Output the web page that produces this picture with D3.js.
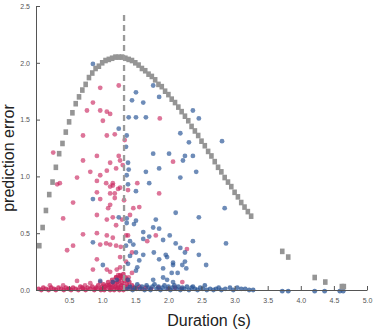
<!DOCTYPE html>
<html><head><meta charset="utf-8">
<script src="https://cdn.jsdelivr.net/npm/d3@7"></script>
<style>
html,body{margin:0;padding:0;background:#fff;}
svg{display:block;font-family:"Liberation Sans",Arial,sans-serif;}
</style></head>
<body><svg id="chart" width="376" height="332"></svg>
<script>
// ---- data (duration s, prediction error) ----
const xTicks = [0.5,1.0,1.5,2.0,2.5,3.0,3.5,4.0,4.5,5.0];
const yTicks = [0,0.5,1,1.5,2,2.5];
const boundaryX = 1.33;

// model curve (gray squares)
const curveX = [0.05,0.10,0.15,0.20,0.25,0.30,0.35,0.40,0.45,0.50,0.55,0.60,0.65,0.70,0.75,0.80,0.85,0.90,0.95,1.00,
  1.05,1.10,1.15,1.20,1.25,1.30,1.35,1.40,1.45,1.50,1.55,1.60,1.65,1.70,1.75,1.80,1.85,1.90,1.95,2.00,
  2.05,2.10,2.15,2.20,2.25,2.30,2.35,2.40,2.45,2.50,2.55,2.60,2.65,2.70,2.75,2.80,2.85,2.90,2.95,3.00,
  3.05,3.10,3.15,3.20,3.25,3.72,3.81,4.21,4.37,4.62,4.65];
const curveY = [0.39,0.55,0.70,0.84,0.95,1.08,1.20,1.29,1.39,1.48,1.56,1.64,1.70,1.76,1.81,1.87,1.91,1.95,1.97,2.00,
  2.02,2.03,2.04,2.05,2.05,2.05,2.04,2.03,2.02,2.00,1.98,1.95,1.93,1.90,1.88,1.85,1.81,1.79,1.75,1.72,
  1.68,1.65,1.61,1.57,1.53,1.49,1.44,1.40,1.36,1.31,1.27,1.22,1.18,1.13,1.08,1.04,0.99,0.95,0.91,0.86,
  0.82,0.77,0.73,0.69,0.65,0.34,0.29,0.11,0.07,0.03,0.03];

// short-duration trials (pink)
const pinkPts = [
 [0.97,1.78],[1.25,1.80],[0.86,1.65],[0.77,1.58],[0.97,1.58],[1.07,1.57],[1.12,1.55],[1.01,1.49],[0.71,1.36],[1.07,1.36],
 [1.19,1.37],[0.26,1.21],[0.71,1.14],[0.92,1.18],[1.12,1.12],[1.27,1.14],[0.82,1.04],[1.07,1.05],[1.21,1.07],[0.97,1.01],
 [0.62,0.99],[0.36,0.94],[0.32,0.93],[0.92,0.96],[1.06,0.94],[1.16,0.94],[1.12,0.91],[1.24,0.89],[0.92,0.86],[1.12,0.85],
 [1.19,0.85],[0.56,0.77],[1.19,0.81],[0.97,0.80],[1.12,0.75],[1.09,0.72],[1.16,0.92],[1.27,0.90],[0.92,0.66],[0.41,0.63],
 [1.07,0.62],[1.21,0.57],[1.30,0.62],[1.16,0.64],[0.71,0.49],[0.92,0.50],[1.07,0.48],[1.16,0.46],[0.47,0.35],[0.56,0.39],
 [1.06,0.41],[1.21,0.39],[1.27,0.29],[0.92,0.27],[0.86,0.18],[1.12,0.16],[1.22,0.18],[1.24,0.13],[0.21,0.04],[0.41,0.04],
 [0.62,0.08],[0.74,0.04],[0.82,0.06],[0.97,0.07],[1.07,0.18],[1.28,0.38],[1.39,0.48],[1.45,0.33],[1.45,0.15],[1.86,0.85],
 [1.56,0.73],[1.47,0.72],[1.53,0.94],[2.07,1.13],[1.81,0.48],[1.68,0.43],[2.28,0.36],[2.21,0.07],[1.36,0.48],[1.87,1.51],
 [1.12,0.40],[0.97,0.40],[1.21,0.11],[1.27,0.20],[1.34,1.32],[1.31,1.10],[1.39,0.88],[1.33,0.79],[1.42,0.66],[1.36,0.25],
 [1.40,0.11],[1.25,1.18]
];
const pinkBand = [
 [0.04,0.01],[0.08,0.00],[0.11,0.02],[0.15,0.01],[0.19,0.00],[0.23,0.02],[0.27,0.01],[0.30,0.00],[0.34,0.02],[0.38,0.01],
 [0.42,0.00],[0.45,0.02],[0.49,0.01],[0.53,0.00],[0.56,0.02],[0.60,0.01],[0.64,0.00],[0.67,0.03],[0.71,0.01],[0.75,0.00],
 [0.78,0.02],[0.82,0.01],[0.85,0.03],[0.88,0.00],[0.91,0.02],[0.94,0.04],[0.97,0.01],[1.00,0.03],[1.02,0.05],[1.05,0.01],
 [1.07,0.04],[1.09,0.07],[1.11,0.02],[1.13,0.05],[1.15,0.09],[1.17,0.03],[1.19,0.06],[1.21,0.11],[1.22,0.01],[1.24,0.04],
 [1.25,0.08],[1.27,0.13],[1.28,0.02],[1.30,0.06],[1.31,0.10],[1.33,0.03],[1.34,0.08],[1.36,0.01],[1.37,0.05],[1.39,0.03],
 [1.41,0.07],[1.43,0.01],[1.45,0.04],[1.48,0.02],[1.52,0.01],[1.56,0.03],[1.60,0.01],[1.66,0.02],[1.74,0.01],[1.85,0.02],
 [2.00,0.01],[2.10,0.02],[2.20,0.01],[1.18,0.00],[1.26,0.00],[1.32,0.00],[1.12,0.00],[0.98,0.00],[1.03,0.00],[1.20,0.03],
 [1.29,0.04],[1.23,0.07],[1.35,0.11],[1.26,0.10],[1.16,0.07],[1.10,0.04],[1.14,0.02],[1.28,0.12],[1.32,0.14],[1.04,0.03],
 [0.90,0.01],[0.70,0.02],[0.50,0.01],[1.38,0.09],[1.24,0.02]
];

// long-duration trials (blue)
const bluePts = [
 [0.86,1.99],[1.51,1.74],[1.45,1.67],[1.62,1.65],[1.77,1.80],[1.86,1.70],[2.37,1.58],[2.46,1.51],[1.40,1.52],[1.51,1.52],
 [1.66,1.52],[2.18,1.38],[2.31,1.30],[2.81,1.31],[2.25,1.18],[2.37,1.18],[2.22,1.14],[2.42,1.04],[2.18,0.99],[2.85,0.72],
 [2.46,0.64],[1.25,1.42],[1.37,1.36],[1.36,1.26],[1.39,1.12],[1.37,1.01],[1.39,0.93],[0.86,0.80],[1.37,0.63],[1.25,0.64],
 [0.86,0.42],[1.01,0.22],[0.97,0.08],[1.16,0.07],[1.37,0.59],[1.48,0.58],[1.62,0.51],[1.71,0.47],[1.77,0.55],[1.86,0.54],
 [1.92,0.44],[2.02,0.48],[2.18,0.37],[2.25,0.33],[1.36,0.39],[1.47,0.40],[1.51,0.33],[1.56,0.26],[1.53,0.20],[1.39,0.23],
 [1.22,0.09],[1.62,0.31],[1.78,0.33],[1.86,0.27],[1.98,0.29],[2.07,0.24],[2.21,0.22],[1.92,0.19],[2.05,0.15],[2.14,0.15],
 [1.98,0.09],[1.39,0.09],[1.77,0.09],[1.77,1.20],[2.01,1.20],[1.66,1.04],[1.86,1.07],[1.71,0.94],[1.51,0.87],[1.40,1.06],
 [2.11,0.68],[1.51,0.61],[1.81,0.62],[2.11,0.41],[2.37,0.43],[2.46,0.31],[1.96,0.31],[2.07,0.22],[2.57,0.22],[1.92,0.11],
 [2.07,0.07],[1.51,0.17],[1.42,0.30],[1.42,0.43],[1.62,0.45],[2.87,0.41],[2.25,0.25],[2.27,0.19]
];
const blueBand = [
 [1.38,0.01],[1.42,0.03],[1.46,0.00],[1.50,0.02],[1.53,0.05],[1.57,0.01],[1.60,0.03],[1.64,0.00],[1.67,0.04],[1.70,0.02],
 [1.73,0.00],[1.76,0.03],[1.79,0.05],[1.82,0.01],[1.85,0.03],[1.88,0.00],[1.91,0.02],[1.94,0.04],[1.97,0.01],[2.00,0.03],
 [2.03,0.00],[2.06,0.02],[2.09,0.04],[2.12,0.01],[2.15,0.03],[2.18,0.00],[2.21,0.02],[2.24,0.01],[2.28,0.03],[2.31,0.00],
 [2.35,0.02],[2.40,0.01],[2.44,0.00],[2.48,0.02],[2.52,0.01],[2.58,0.00],[2.63,0.01],[2.68,0.00],[2.72,0.01],[2.80,0.00],
 [2.86,0.01],[2.98,0.00],[3.10,0.01],[3.22,0.00],
 [2.37,0.03],[2.55,0.04],[2.76,0.02],[2.93,0.02],[3.04,0.02],[3.16,0.01],[3.28,0.00],
 [3.72,-0.01],[3.81,-0.01],[4.21,-0.01],[4.36,-0.01],[4.59,-0.01],[4.64,-0.01]
];

// ---- drawing ----
const svg = d3.select("#chart");
const x = d3.scaleLinear().domain([0,5]).range([36,367]);
const y = d3.scaleLinear().domain([0,2.5]).range([290,6]);

const PINK = "#c8215a", BLUE = "#2a5596";
function dots(data, color, op){
  svg.append("g").selectAll("circle").data(data).join("circle")
    .attr("cx", d=>x(d[0])).attr("cy", d=>y(d[1])).attr("r", 2.4)
    .attr("fill", color).attr("fill-opacity", op);
}
dots(pinkPts, PINK, 0.62);
dots(pinkBand, PINK, 0.78);
dots(bluePts, BLUE, 0.68);
dots(blueBand, BLUE, 0.75);

// axes
const yAxis = d3.axisLeft(y).tickValues(yTicks).tickSizeInner(-4).tickSizeOuter(0).tickPadding(6);
const xAxis = d3.axisBottom(x).tickValues(xTicks).tickFormat(d3.format(".1f")).tickSizeInner(-4).tickSizeOuter(0).tickPadding(8);
const gy = svg.append("g").attr("transform","translate(36,0)").call(yAxis);
const gx = svg.append("g").attr("transform","translate(0,290)").call(xAxis);
[gx,gy].forEach(g=>{
  g.select(".domain").attr("stroke","#555");
  g.selectAll(".tick line").attr("stroke","#555");
  g.selectAll(".tick text").attr("fill","#555").style("font-size","7px").style("font-family","'Liberation Sans',Arial,sans-serif");
});

// model squares
const curve = curveX.map((v,i)=>[v,curveY[i]]);
svg.append("g").selectAll("rect").data(curve).join("rect")
  .attr("x", d=>x(d[0])-2.3).attr("y", d=>y(d[1])-2.8)
  .attr("width",4.6).attr("height",5.6).attr("fill","#959595");

// boundary dashed line
svg.append("line").attr("x1",x(boundaryX)).attr("x2",x(boundaryX))
  .attr("y1",15).attr("y2",y(0)).attr("stroke","#9a9a9a").attr("stroke-width",2.3)
  .attr("stroke-dasharray","6,4");

// titles
svg.append("text").attr("transform","translate(14,158) rotate(-90)")
  .attr("text-anchor","middle").attr("fill","#222").style("font-size","16px").text("prediction error");
svg.append("text").attr("x",209).attr("y",326).attr("text-anchor","middle")
  .attr("fill","#222").style("font-size","16px").text("Duration (s)");
</script></body></html>
